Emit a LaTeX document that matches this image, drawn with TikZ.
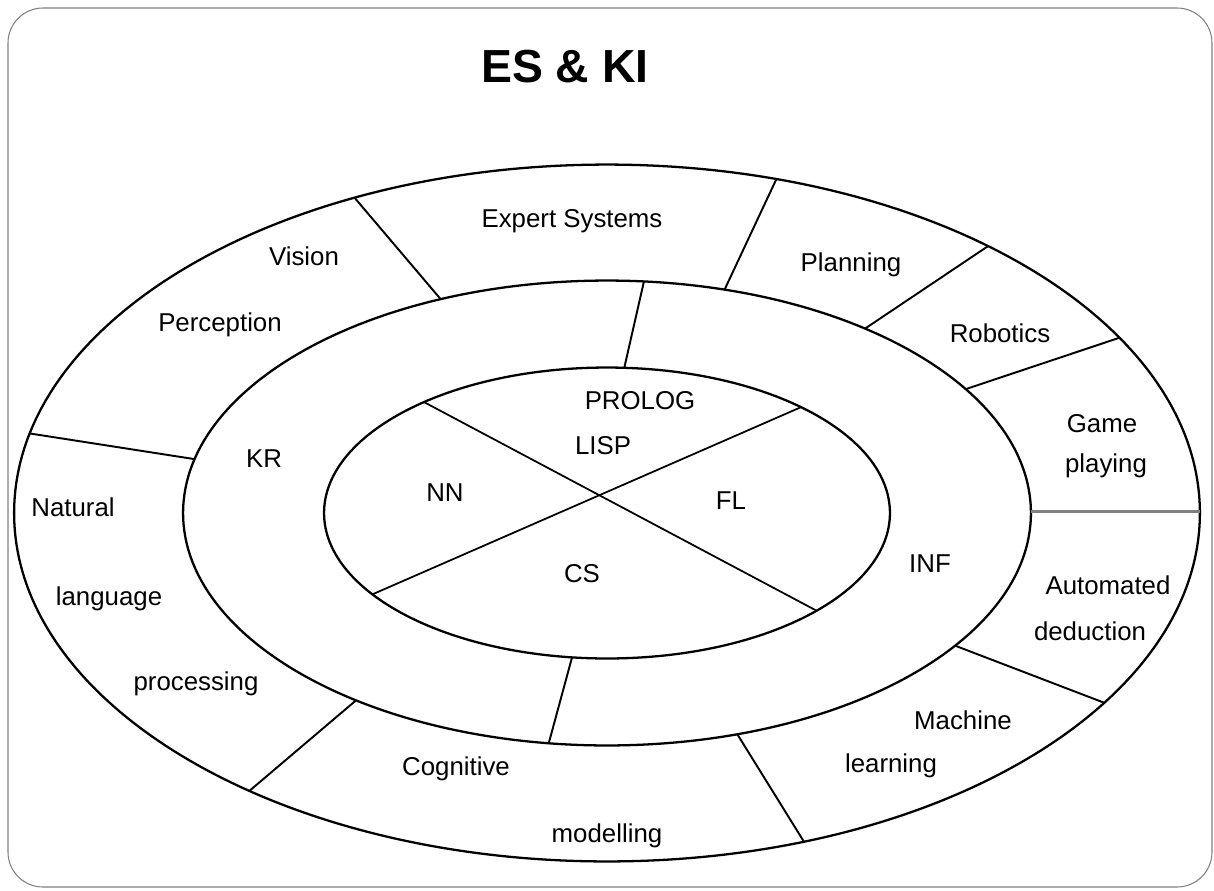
\documentclass[tikz,border=0pt]{standalone}
\usepackage{fontspec}
\setmainfont{Liberation Sans}
\usetikzlibrary{calc}
\begin{document}
\begin{tikzpicture}[x=0.02cm, y=-0.02cm,
  ring/.style={line width=1.3pt},
  divider/.style={line width=1.1pt},
  softdivider/.style={line width=1.5pt, draw=gray},
  cross/.style={line width=1pt},
  lbl/.style={font=\fontsize{14.7}{17}\selectfont, inner sep=0pt,
              text height=10.5pt, text depth=0pt},
  headline/.style={font=\bfseries\fontsize{26.4}{30}\selectfont, inner sep=0pt,
              text height=19pt, text depth=0pt}]
\useasboundingbox (0,0) rectangle (1214,890);

% frame
\draw[gray, line width=0.6pt, rounded corners=0.7cm] (8,8) rectangle (1212,887);

% title
\node[headline] (title) at (565,66) {ES \& KI};

% three concentric ellipses
\coordinate (C) at (607,513);
\draw[ring] (C) ellipse [x radius=11.86cm, y radius=6.97cm];
\draw[ring] (C) ellipse [x radius=8.48cm,  y radius=4.65cm];
\draw[ring] (C) ellipse [x radius=5.66cm,  y radius=2.91cm];

% points on the outer ellipse
\foreach \n/\t in {1/-115.2, 2/-73.4, 3/-50.0, 4/-30.2, 5/-0.25,
                   6/33.0, 7/70.6, 8/127.1, 9/-166.8}
  \coordinate (o\n) at ($(C)+({593*cos(\t)},{348.5*sin(\t)})$);
% points on the middle ellipse
\foreach \n/\t in {1/-113.1, 2/-73.9, 3/-52.5, 4/-32.2, 5/-0.37,
                   6/34.8, 7/72.1, 8/126.3, 9/-166.6, a/-85.0, b/97.9}
  \coordinate (m\n) at ($(C)+({424*cos(\t)},{232.5*sin(\t)})$);
% points on the inner ellipse
\foreach \n/\t in {a/-86.5, b/97.1, p/-130.3, q/42.2, r/146.0, s/-46.7}
  \coordinate (i\n) at ($(C)+({283*cos(\t)},{145.5*sin(\t)})$);

% sectors of the outer ring
\foreach \n in {1,2,3,4,6,7,8,9}
  \draw[divider] (m\n) -- (o\n);
\draw[softdivider] (m5) -- (o5);

% sectors of the middle ring
\draw[divider] (ma) -- (ia);
\draw[divider] (mb) -- (ib);

% cross in the core
\draw[cross] (ip) -- (iq);
\draw[cross] (ir) -- (is);

% outer ring labels
\node[lbl] (es)    at (572,218) {Expert Systems};
\node[lbl] (vis)   at (304,256) {Vision};
\node[lbl] (perc)  at (220,322) {Perception};
\node[lbl] (plan)  at (851,262) {Planning};
\node[lbl] (rob)   at (1000,333) {Robotics};
\node[lbl] (game)  at (1102,423) {Game};
\node[lbl] (play)  at (1106,463) {playing};
\node[lbl] (auto)  at (1108,585) {Automated};
\node[lbl] (ded)   at (1090,631) {deduction};
\node[lbl] (mach)  at (963,720) {Machine};
\node[lbl] (learn) at (891,763) {learning};
\node[lbl] (cog)   at (456,766) {Cognitive};
\node[lbl] (model) at (607,833) {modelling};
\node[lbl] (nat)   at (73,507) {Natural};
\node[lbl] (lang)  at (109,596) {language};
\node[lbl] (proc)  at (196,681) {processing};

% middle ring labels
\node[lbl] (kr)    at (264,458) {KR};
\node[lbl] (inf)   at (930,563) {INF};

% core labels
\node[lbl] (prolog) at (640,400) {PROLOG};
\node[lbl] (lisp)   at (603,445) {LISP};
\node[lbl] (nn)     at (445,492) {NN};
\node[lbl] (fl)     at (731,500) {FL};
\node[lbl] (cs)     at (582,573) {CS};
\end{tikzpicture}
\end{document}
